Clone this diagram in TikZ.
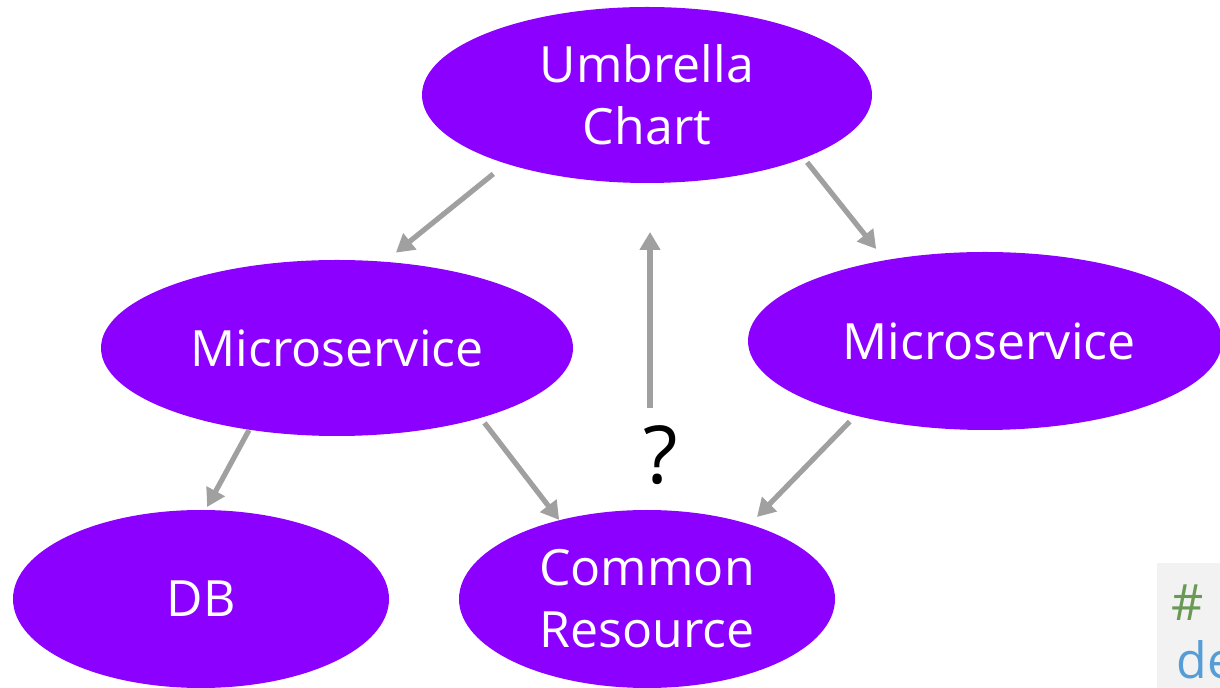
\documentclass[tikz,border=0pt]{standalone}
\usepackage{fontspec}
\setmainfont{Open Sans}
\usetikzlibrary{shapes.geometric,arrows.meta}
\definecolor{bubble}{RGB}{140,0,255}
\definecolor{arrowgray}{RGB}{160,160,160}
\definecolor{codebg}{RGB}{242,242,242}
\definecolor{codegreen}{RGB}{106,153,85}
\definecolor{codeblue}{RGB}{86,156,214}

\begin{document}
\begin{tikzpicture}[x=0.5pt,y=-0.5pt,
    bubble/.style={ellipse,fill=bubble,text=white,inner sep=0pt,align=center,font=\fontsize{25}{31}\selectfont},
    link/.style={draw=arrowgray,line width=2.6pt,-{Triangle[length=9pt,width=10pt]}}]
        \clip (0,0) rectangle (1220,688);
        \draw (647,95)  node[bubble,minimum width=225pt,minimum height=88pt] (um) {Umbrella\\Chart};
        \draw (337,348) node[bubble,minimum width=236pt,minimum height=88pt] (ml) {Microservice};
        \draw (985,341) node[bubble,minimum width=237pt,minimum height=89pt] (mr) {\hspace*{4pt}Microservice};
        \draw (201,599) node[bubble,minimum width=188pt,minimum height=89pt] (db) {DB};
        \draw (647,599) node[bubble,minimum width=188pt,minimum height=89pt] (cr) {Common\\Resource};
        \node[font=\fontsize{40}{48}\selectfont] (qm) at (661,455) {?};
        \coordinate (qs) at (650,408);
        \coordinate (qe) at (650,232);
        % code snippet at the lower right
        \fill[codebg] (1157,563) rectangle (1240,700);
        \node[text=codegreen,font=\fontsize{25}{31}\selectfont] (hash) at (1188,603) {\#};
        \node[text=codeblue,font=\fontsize{25}{31}\selectfont,anchor=west,inner sep=0pt] (de) at (1176,660) {de};
        \draw[link,shorten <=8pt,shorten >=7pt] (um.206) -- (ml.61);
        \draw[link,shorten <=2.5pt,shorten >=7pt] (um.-22) -- (mr.141);
        \draw[link,shorten >=1.5pt] (ml.223) -- (db.87);
        \draw[link,shorten <=3pt] (ml.-26) -- (cr.138);
        \draw[link,shorten <=4pt,shorten >=5pt] (mr.210) -- (cr.36);
        \draw[link] (qs) -- (qe);
    \end{tikzpicture}
\end{document}
